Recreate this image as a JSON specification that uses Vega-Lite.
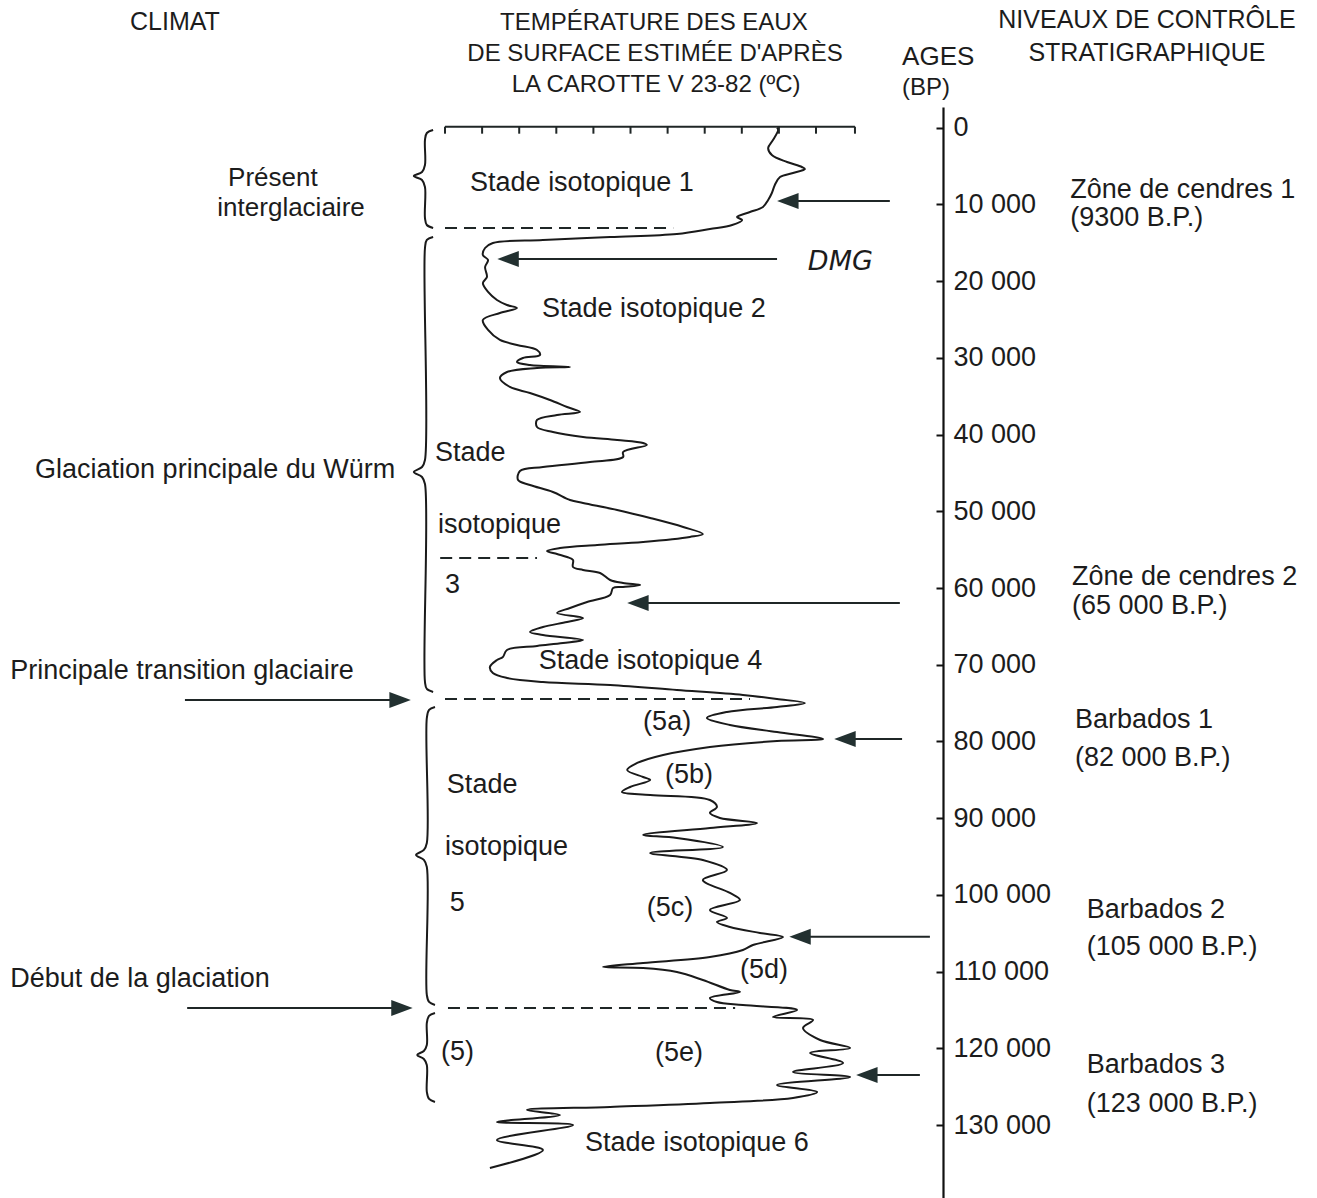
{
  "$schema": "https://vega.github.io/schema/vega-lite/v6.json",
  "width": 943,
  "height": 1091,
  "autosize": {"type": "none"},
  "padding": {"left": 0, "top": 107, "right": 374, "bottom": 0},
  "background": "white",
  "config": {"view": {"stroke": null}},
  "datasets": {
    "curve": [
      {"i":1,"t":18.95,"age":0},{"i":2,"t":18.98,"age":300},{"i":3,"t":18.84,"age":1603},{"i":4,"t":18.71,"age":2646},
      {"i":5,"t":18.81,"age":3558},{"i":6,"t":19.22,"age":4471},{"i":7,"t":19.62,"age":5122},{"i":8,"t":19.70,"age":5383},
      {"i":9,"t":19.38,"age":5904},{"i":10,"t":19.03,"age":6426},{"i":11,"t":18.89,"age":7468},{"i":12,"t":18.81,"age":8511},
      {"i":13,"t":18.71,"age":9424},{"i":14,"t":18.57,"age":10336},{"i":15,"t":18.22,"age":10988},{"i":16,"t":17.87,"age":11639},
      {"i":17,"t":18.01,"age":12030},{"i":18,"t":17.74,"age":12682},{"i":19,"t":17.14,"age":13203},{"i":20,"t":16.25,"age":13855},
      {"i":21,"t":14.45,"age":14246},{"i":22,"t":12.64,"age":14637},{"i":23,"t":11.29,"age":15028},{"i":24,"t":11.08,"age":15680},
      {"i":25,"t":11.02,"age":16592},{"i":26,"t":11.16,"age":17244},{"i":27,"t":11.08,"age":18156},{"i":28,"t":11.13,"age":19460},
      {"i":29,"t":11.02,"age":20242},{"i":30,"t":11.16,"age":21415},{"i":31,"t":11.40,"age":22458},{"i":32,"t":11.67,"age":23109},
      {"i":33,"t":11.94,"age":23500},{"i":34,"t":11.48,"age":24152},{"i":35,"t":11.02,"age":25064},{"i":36,"t":11.16,"age":26368},
      {"i":37,"t":11.48,"age":27671},{"i":38,"t":11.94,"age":28323},{"i":39,"t":12.48,"age":28975},{"i":40,"t":12.56,"age":29626},
      {"i":41,"t":12.10,"age":30017},{"i":42,"t":11.94,"age":30539},{"i":43,"t":12.29,"age":30930},{"i":44,"t":13.37,"age":31190},
      {"i":45,"t":12.48,"age":31321},{"i":46,"t":11.67,"age":31842},{"i":47,"t":11.48,"age":32624},{"i":48,"t":11.75,"age":33797},
      {"i":49,"t":12.29,"age":34579},{"i":50,"t":12.83,"age":35492},{"i":51,"t":13.29,"age":36404},{"i":52,"t":13.64,"age":37056},
      {"i":53,"t":13.02,"age":37447},{"i":54,"t":12.48,"age":38098},{"i":55,"t":12.48,"age":39011},{"i":56,"t":12.91,"age":39662},
      {"i":57,"t":13.72,"age":40314},{"i":58,"t":14.64,"age":40705},{"i":59,"t":15.34,"age":41096},{"i":60,"t":15.44,"age":41357},
      {"i":61,"t":14.80,"age":42269},{"i":62,"t":14.80,"age":42921},{"i":63,"t":13.91,"age":43573},{"i":64,"t":12.64,"age":44224},
      {"i":65,"t":12.02,"age":44746},{"i":66,"t":11.97,"age":45919},{"i":67,"t":12.29,"age":46570},{"i":68,"t":12.91,"age":47483},
      {"i":69,"t":13.37,"age":48526},{"i":70,"t":13.72,"age":48917},{"i":71,"t":14.64,"age":49829},{"i":72,"t":15.53,"age":50872},
      {"i":73,"t":16.42,"age":52044},{"i":74,"t":16.95,"age":52957},{"i":75,"t":16.60,"age":53348},{"i":76,"t":15.34,"age":54000},
      {"i":77,"t":14.10,"age":54391},{"i":78,"t":13.10,"age":54782},{"i":79,"t":12.75,"age":55173},{"i":80,"t":13.02,"age":55564},
      {"i":81,"t":13.29,"age":55955},{"i":82,"t":13.45,"age":56345},{"i":83,"t":13.45,"age":57258},{"i":84,"t":13.72,"age":57649},
      {"i":85,"t":14.18,"age":58040},{"i":86,"t":14.45,"age":58953},{"i":87,"t":14.80,"age":59344},{"i":88,"t":15.26,"age":59604},
      {"i":89,"t":14.80,"age":59865},{"i":90,"t":14.53,"age":59996},{"i":91,"t":14.45,"age":60909},{"i":92,"t":13.83,"age":61821},
      {"i":93,"t":13.37,"age":62603},{"i":94,"t":13.02,"age":63255},{"i":95,"t":13.72,"age":63906},{"i":96,"t":13.29,"age":64427},
      {"i":97,"t":12.64,"age":65080},{"i":98,"t":12.29,"age":65731},{"i":99,"t":12.64,"age":66122},{"i":100,"t":13.72,"age":66774},
      {"i":101,"t":13.18,"age":67165},{"i":102,"t":12.48,"age":67556},{"i":103,"t":11.67,"age":68077},{"i":104,"t":11.56,"age":68990},
      {"i":105,"t":11.40,"age":69380},{"i":106,"t":11.21,"age":70293},{"i":107,"t":11.29,"age":71075},{"i":108,"t":11.67,"age":71726},
      {"i":109,"t":12.64,"age":72248},{"i":110,"t":14.45,"age":72639},{"i":111,"t":16.25,"age":73290},{"i":112,"t":18.03,"age":73942},
      {"i":113,"t":18.95,"age":74464},{"i":114,"t":19.70,"age":74985},{"i":115,"t":18.95,"age":75506},{"i":116,"t":17.60,"age":76158},
      {"i":117,"t":17.06,"age":76940},{"i":118,"t":17.68,"age":77852},{"i":119,"t":18.95,"age":78764},{"i":120,"t":20.19,"age":79677},
      {"i":121,"t":18.95,"age":79937},{"i":122,"t":17.14,"age":80720},{"i":123,"t":15.88,"age":81762},{"i":124,"t":15.18,"age":82805},
      {"i":125,"t":14.91,"age":83717},{"i":126,"t":15.34,"age":84630},{"i":127,"t":15.53,"age":85021},{"i":128,"t":14.99,"age":85933},
      {"i":129,"t":14.77,"age":86585},{"i":130,"t":15.53,"age":86976},{"i":131,"t":17.14,"age":87628},{"i":132,"t":17.33,"age":88540},
      {"i":133,"t":17.14,"age":89322},{"i":134,"t":17.41,"age":89974},{"i":135,"t":18.41,"age":90626},{"i":136,"t":17.14,"age":91278},
      {"i":137,"t":15.34,"age":92190},{"i":138,"t":16.25,"age":92582},{"i":139,"t":17.49,"age":93754},{"i":140,"t":15.53,"age":94537},
      {"i":141,"t":16.95,"age":95448},{"i":142,"t":17.60,"age":96751},{"i":143,"t":16.95,"age":98055},{"i":144,"t":17.68,"age":99750},
      {"i":145,"t":17.95,"age":100662},{"i":146,"t":17.14,"age":101965},{"i":147,"t":17.60,"age":103008},{"i":148,"t":17.33,"age":103530},
      {"i":149,"t":17.68,"age":104181},{"i":150,"t":18.49,"age":104963},{"i":151,"t":19.11,"age":105485},{"i":152,"t":18.30,"age":106528},
      {"i":153,"t":18.03,"age":107180},{"i":154,"t":17.14,"age":108092},{"i":155,"t":15.34,"age":108874},{"i":156,"t":14.26,"age":109396},
      {"i":157,"t":15.34,"age":109526},{"i":158,"t":16.25,"age":110047},{"i":159,"t":16.95,"age":111090},{"i":160,"t":17.68,"age":112393},
      {"i":161,"t":17.95,"age":112654},{"i":162,"t":17.14,"age":113436},{"i":163,"t":17.33,"age":113957},{"i":164,"t":18.03,"age":114348},
      {"i":165,"t":19.49,"age":115000},{"i":166,"t":18.84,"age":115912},{"i":167,"t":19.92,"age":116303},{"i":168,"t":19.65,"age":117346},
      {"i":169,"t":20.11,"age":118910},{"i":170,"t":20.92,"age":119953},{"i":171,"t":19.84,"age":120605},{"i":172,"t":20.73,"age":121907},
      {"i":173,"t":19.38,"age":123081},{"i":174,"t":20.92,"age":123733},{"i":175,"t":18.95,"age":124776},{"i":176,"t":20.03,"age":125688},
      {"i":177,"t":19.38,"age":126470},{"i":178,"t":17.14,"age":127122},{"i":179,"t":14.45,"age":127643},{"i":180,"t":12.21,"age":128035},
      {"i":181,"t":13.10,"age":128686},{"i":182,"t":11.40,"age":129599},{"i":183,"t":13.45,"age":129990},{"i":184,"t":11.40,"age":131943},
      {"i":185,"t":12.64,"age":133246},{"i":186,"t":11.21,"age":135594}
    ],
    "braces": [
      {"b":"a","i":1,"t":9.68,"age":300},{"b":"a","i":2,"t":9.51,"age":691},{"b":"a","i":3,"t":9.46,"age":1603},{"b":"a","i":4,"t":9.46,"age":4862},
      {"b":"a","i":5,"t":9.38,"age":5774},{"b":"a","i":6,"t":9.16,"age":6295},{"b":"a","i":7,"t":9.38,"age":6817},{"b":"a","i":8,"t":9.46,"age":7729},
      {"b":"a","i":9,"t":9.46,"age":11770},{"b":"a","i":10,"t":9.51,"age":12682},{"b":"a","i":11,"t":9.68,"age":13073},
      {"b":"b","i":1,"t":9.68,"age":14246},{"b":"b","i":2,"t":9.51,"age":14637},{"b":"b","i":3,"t":9.46,"age":15680},{"b":"b","i":4,"t":9.46,"age":43312},
      {"b":"b","i":5,"t":9.38,"age":44224},{"b":"b","i":6,"t":9.16,"age":44876},{"b":"b","i":7,"t":9.38,"age":45528},{"b":"b","i":8,"t":9.46,"age":46440},
      {"b":"b","i":9,"t":9.46,"age":72248},{"b":"b","i":10,"t":9.51,"age":73160},{"b":"b","i":11,"t":9.68,"age":73551},
      {"b":"c","i":1,"t":9.73,"age":75506},{"b":"c","i":2,"t":9.57,"age":75897},{"b":"c","i":3,"t":9.51,"age":76940},{"b":"c","i":4,"t":9.51,"age":93233},
      {"b":"c","i":5,"t":9.43,"age":94145},{"b":"c","i":6,"t":9.22,"age":94797},{"b":"c","i":7,"t":9.43,"age":95448},{"b":"c","i":8,"t":9.51,"age":96360},
      {"b":"c","i":9,"t":9.51,"age":113044},{"b":"c","i":10,"t":9.57,"age":113957},{"b":"c","i":11,"t":9.73,"age":114348},
      {"b":"d","i":1,"t":9.73,"age":115390},{"b":"d","i":2,"t":9.57,"age":115781},{"b":"d","i":3,"t":9.51,"age":116693},{"b":"d","i":4,"t":9.51,"age":119561},
      {"b":"d","i":5,"t":9.43,"age":120344},{"b":"d","i":6,"t":9.25,"age":120865},{"b":"d","i":7,"t":9.43,"age":121386},{"b":"d","i":8,"t":9.51,"age":122169},
      {"b":"d","i":9,"t":9.51,"age":125688},{"b":"d","i":10,"t":9.57,"age":126600},{"b":"d","i":11,"t":9.73,"age":126991}
    ],
    "solid": [
      {"t":10,"age":-130,"t2":21.05,"age2":-130},
      {"t":10,"age":-130,"t2":10,"age2":780},{"t":11,"age":-130,"t2":11,"age2":780},{"t":12,"age":-130,"t2":12,"age2":780},
      {"t":13,"age":-130,"t2":13,"age2":780},{"t":14,"age":-130,"t2":14,"age2":780},{"t":15,"age":-130,"t2":15,"age2":780},
      {"t":16,"age":-130,"t2":16,"age2":780},{"t":17,"age":-130,"t2":17,"age2":780},{"t":18,"age":-130,"t2":18,"age2":780},
      {"t":19,"age":-130,"t2":19,"age2":780},{"t":20,"age":-130,"t2":20,"age2":780},{"t":21.05,"age":-130,"t2":21.05,"age2":780},
      {"t":19.43,"age":9554,"t2":21.99,"age2":9554},
      {"t":11.89,"age":17114,"t2":18.95,"age2":17114},
      {"t":15.39,"age":61951,"t2":22.26,"age2":61951},
      {"t":20.97,"age":79677,"t2":22.32,"age2":79677},
      {"t":19.70,"age":105454,"t2":23.07,"age2":105454},
      {"t":21.59,"age":123471,"t2":22.80,"age2":123471},
      {"t":2.99,"age":74594,"t2":8.65,"age2":74594},
      {"t":3.05,"age":114738,"t2":8.71,"age2":114738}
    ],
    "dashed": [
      {"t":10.0,"age":13073,"t2":16.15,"age2":13073},
      {"t":9.87,"age":56085,"t2":12.48,"age2":56085},
      {"t":10.0,"age":74464,"t2":18.22,"age2":74464},
      {"t":10.08,"age":114738,"t2":17.82,"age2":114738}
    ],
    "headsLeft": [
      {"t":19.24,"age":9554},{"t":11.70,"age":17114},{"t":15.20,"age":61951},
      {"t":20.78,"age":79677},{"t":19.57,"age":105454},{"t":21.37,"age":123471}
    ],
    "headsRight": [
      {"t":8.79,"age":74594},{"t":8.84,"age":114738}
    ],
    "textC": [
      {"label":"CLIMAT","t":2.72,"age":-13777,"fs":25},
      {"label":"TEMPÉRATURE DES EAUX","t":15.63,"age":-13647,"fs":24},
      {"label":"DE SURFACE ESTIMÉE D'APRÈS","t":15.66,"age":-9606,"fs":24},
      {"label":"LA CAROTTE V 23-82  (ºC)","t":15.69,"age":-5565,"fs":24},
      {"label":"NIVEAUX DE CONTRÔLE","t":28.92,"age":-14038,"fs":25},
      {"label":"STRATIGRAPHIQUE","t":28.92,"age":-9736,"fs":25},
      {"label":"Présent","t":5.36,"age":6556,"fs":26},
      {"label":"interglaciaire","t":5.85,"age":10466,"fs":26},
      {"label":"Stade isotopique 1","t":13.69,"age":7208,"fs":27},
      {"label":"Stade isotopique 2","t":15.63,"age":23631,"fs":27},
      {"label":"Stade isotopique 4","t":15.54,"age":69510,"fs":27},
      {"label":"Stade isotopique 6","t":16.79,"age":132334,"fs":27}
    ],
    "textL": [
      {"label":"Glaciation principale du Würm","t":-1.05,"age":44615,"fs":27},
      {"label":"Principale transition glaciaire","t":-1.72,"age":70814,"fs":27},
      {"label":"Début de la glaciation","t":-1.72,"age":110958,"fs":27},
      {"label":"Stade","t":9.73,"age":42400,"fs":27},
      {"label":"isotopique","t":9.81,"age":51784,"fs":27},
      {"label":"3","t":10.0,"age":59604,"fs":27},
      {"label":"(5a)","t":15.34,"age":77461,"fs":27},
      {"label":"(5b)","t":15.93,"age":84369,"fs":27},
      {"label":"(5c)","t":15.44,"age":101704,"fs":27},
      {"label":"(5d)","t":17.95,"age":109785,"fs":27},
      {"label":"(5e)","t":15.66,"age":120604,"fs":27},
      {"label":"(5)","t":9.89,"age":120473,"fs":27},
      {"label":"Stade","t":10.05,"age":85673,"fs":27},
      {"label":"isotopique","t":10.0,"age":93754,"fs":27},
      {"label":"5","t":10.13,"age":101053,"fs":27},
      {"label":"AGES","t":22.32,"age":-9215,"fs":26},
      {"label":"(BP)","t":22.32,"age":-5175,"fs":24},
      {"label":"Zône de cendres 1","t":26.85,"age":8120,"fs":27},
      {"label":"(9300 B.P.)","t":26.85,"age":11770,"fs":27},
      {"label":"Zône de cendres 2","t":26.90,"age":58562,"fs":27},
      {"label":"(65 000 B.P.)","t":26.90,"age":62342,"fs":27},
      {"label":"Barbados 1","t":26.98,"age":77200,"fs":27},
      {"label":"(82 000 B.P.)","t":26.98,"age":82153,"fs":27},
      {"label":"Barbados 2","t":27.30,"age":101965,"fs":27},
      {"label":"(105 000 B.P.)","t":27.30,"age":106788,"fs":27},
      {"label":"Barbados 3","t":27.30,"age":122168,"fs":27},
      {"label":"(123 000 B.P.)","t":27.30,"age":127251,"fs":27}
    ],
    "hand": [
      {"label":"DMG","t":19.78,"age":17505,"fs":27}
    ]
  },
  "encoding": {
    "x": {"field": "t", "type": "quantitative", "scale": {"domain": [-1.995, 23.423], "nice": false, "zero": false}, "axis": null},
    "y": {"field": "age", "type": "quantitative",
      "scale": {"domain": [-2698, 139508], "nice": false, "zero": false, "reverse": true},
      "axis": {"orient": "right", "title": null, "grid": false,
        "values": [0,10000,20000,30000,40000,50000,60000,70000,80000,90000,100000,110000,120000,130000],
        "domainColor": "#111111", "domainWidth": 2.2, "tickColor": "#111111", "tickWidth": 2, "tickSize": -7,
        "labelPadding": 17, "labelFont": "Liberation Sans", "labelFontSize": 27, "labelColor": "#1c1c1c",
        "labelAlign": "left", "labelBaseline": "middle", "labelOverlap": false, "labelBound": false, "labelFlush": false,
        "labelExpr": "replace(format(datum.value, ','), ',', ' ')"}}
  },
  "layer": [
    {"data": {"name": "curve"}, "mark": {"type": "line", "stroke": "#1a1a1a", "strokeWidth": 2, "strokeJoin": "round", "interpolate": "catmull-rom"},
      "encoding": {"order": {"field": "i", "type": "quantitative"}}},
    {"data": {"name": "braces"}, "mark": {"type": "line", "stroke": "#1a1a1a", "strokeWidth": 2, "strokeJoin": "round", "interpolate": "catmull-rom"},
      "encoding": {"detail": {"field": "b", "type": "nominal"}, "order": {"field": "i", "type": "quantitative"}}},
    {"data": {"name": "solid"}, "mark": {"type": "rule", "stroke": "#1f2626", "strokeWidth": 2},
      "encoding": {"x2": {"field": "t2"}, "y2": {"field": "age2"}}},
    {"data": {"name": "dashed"}, "mark": {"type": "rule", "stroke": "#1f2626", "strokeWidth": 2, "strokeDash": [12, 7]},
      "encoding": {"x2": {"field": "t2"}, "y2": {"field": "age2"}}},
    {"data": {"name": "headsLeft"}, "mark": {"type": "point", "shape": "M -1 0 L 1 -0.75 L 1 0.75 Z", "size": 460, "filled": true, "color": "#223030", "opacity": 1, "strokeWidth": 0}},
    {"data": {"name": "headsRight"}, "mark": {"type": "point", "shape": "M 1 0 L -1 -0.75 L -1 0.75 Z", "size": 460, "filled": true, "color": "#223030", "opacity": 1, "strokeWidth": 0}},
    {"data": {"name": "textC"}, "mark": {"type": "text", "align": "center", "baseline": "middle", "font": "Liberation Sans", "color": "#1c1c1c"},
      "encoding": {"text": {"field": "label"}, "size": {"field": "fs", "type": "quantitative", "scale": null}}},
    {"data": {"name": "textL"}, "mark": {"type": "text", "align": "left", "baseline": "middle", "font": "Liberation Sans", "color": "#1c1c1c"},
      "encoding": {"text": {"field": "label"}, "size": {"field": "fs", "type": "quantitative", "scale": null}}},
    {"data": {"name": "hand"}, "mark": {"type": "text", "align": "left", "baseline": "middle", "font": "DejaVu Sans", "fontStyle": "italic", "color": "#1c1c1c"},
      "encoding": {"text": {"field": "label"}, "size": {"field": "fs", "type": "quantitative", "scale": null}}}
  ]
}
